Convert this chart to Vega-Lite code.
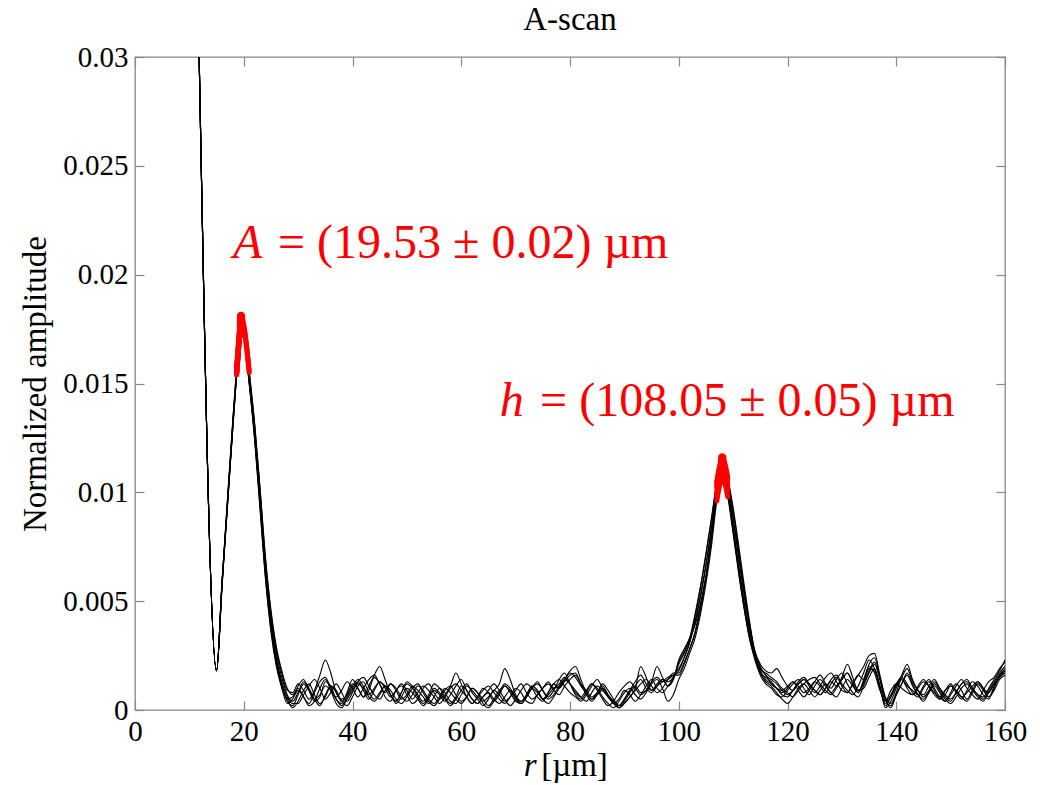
{
  "$schema": "https://vega.github.io/schema/vega-lite/v6.json",
  "width": 870,
  "height": 653,
  "autosize": "none",
  "padding": {"left": 135, "top": 57, "right": 35, "bottom": 75},
  "background": "white",
  "config": {
    "view": {"stroke": "#888888", "strokeWidth": 1.3},
    "font": "Liberation Serif"
  },
  "datasets": {
    "scans": [
      {"r":11.8,"a":0.03,"b":0.03,"c":0.03,"d":0.03,"e":0.03,"f":0.03,"g":0.03,"h":0.03},
      {"r":15,"a":0.0018,"b":0.0018,"c":0.0018,"d":0.0018,"e":0.0018,"f":0.0018,"g":0.0018,"h":0.0018},
      {"r":16,"a":0.0058,"b":0.0057,"c":0.0059,"d":0.0058,"e":0.0056,"f":0.0058,"g":0.0059,"h":0.0057},
      {"r":17,"a":0.0095,"b":0.0094,"c":0.0096,"d":0.0093,"e":0.0095,"f":0.0097,"g":0.0094,"h":0.0095},
      {"r":18,"a":0.0132,"b":0.013,"c":0.0133,"d":0.0131,"e":0.0132,"f":0.0134,"g":0.0131,"h":0.013},
      {"r":18.7,"a":0.0156,"b":0.0154,"c":0.0157,"d":0.0155,"e":0.0156,"f":0.0158,"g":0.0155,"h":0.0154},
      {"r":19,"a":0.0166,"b":0.0164,"c":0.0167,"d":0.0165,"e":0.0166,"f":0.0168,"g":0.0165,"h":0.0164},
      {"r":19.5,"a":0.0178,"b":0.0176,"c":0.018,"d":0.0177,"e":0.0179,"f":0.0181,"g":0.0177,"h":0.0176},
      {"r":20,"a":0.0174,"b":0.0172,"c":0.0176,"d":0.0173,"e":0.0175,"f":0.0177,"g":0.0173,"h":0.0172},
      {"r":21,"a":0.0152,"b":0.015,"c":0.0155,"d":0.0151,"e":0.0153,"f":0.0156,"g":0.0151,"h":0.015},
      {"r":22,"a":0.0128,"b":0.0124,"c":0.0131,"d":0.0126,"e":0.0129,"f":0.0132,"g":0.0127,"h":0.0125},
      {"r":23,"a":0.0097,"b":0.0092,"c":0.0101,"d":0.0095,"e":0.0099,"f":0.0102,"g":0.0096,"h":0.0093},
      {"r":24,"a":0.0065,"b":0.006,"c":0.0069,"d":0.0063,"e":0.0067,"f":0.007,"g":0.0064,"h":0.0061},
      {"r":25,"a":0.0041,"b":0.0036,"c":0.0045,"d":0.0039,"e":0.0043,"f":0.0046,"g":0.004,"h":0.0037},
      {"r":26,"a":0.0023,"b":0.002,"c":0.0028,"d":0.0022,"e":0.0026,"f":0.0029,"g":0.0024,"h":0.0021},
      {"r":27,"a":0.0012,"b":0.001,"c":0.0017,"d":0.0011,"e":0.0015,"f":0.0018,"g":0.0013,"h":0.0011},
      {"r":28,"a":0.0004,"b":0.0003,"c":0.0009,"d":0.0005,"e":0.0007,"f":0.001,"g":0.0006,"h":0.0005},
      {"r":29,"a":0.0002,"b":0.0005,"c":0.0008,"d":0.0001,"e":0.0004,"f":0.0007,"g":0.0003,"h":0.0006},
      {"r":30,"a":0.0007,"b":0.0009,"c":0.0012,"d":0.0004,"e":0.0008,"f":0.001,"g":0.0003,"h":0.0011},
      {"r":31,"a":0.0012,"b":0.0006,"c":0.0009,"d":0.0009,"e":0.0013,"f":0.0006,"g":0.0007,"h":0.0014},
      {"r":32,"a":0.0009,"b":0.0002,"c":0.0005,"d":0.0012,"e":0.001,"f":0.0003,"g":0.0011,"h":0.0009},
      {"r":33,"a":0.0004,"b":0.0004,"c":0.0009,"d":0.0007,"e":0.0005,"f":0.0008,"g":0.0014,"h":0.0005},
      {"r":34,"a":0.0006,"b":0.001,"c":0.0016,"d":0.0003,"e":0.0002,"f":0.0013,"g":0.001,"h":0.0007},
      {"r":35,"a":0.0013,"b":0.0014,"c":0.0023,"d":0.0006,"e":0.0007,"f":0.0015,"g":0.0005,"h":0.0011},
      {"r":36,"a":0.0011,"b":0.0009,"c":0.0017,"d":0.0011,"e":0.0011,"f":0.001,"g":0.0008,"h":0.0009},
      {"r":37,"a":0.0005,"b":0.0003,"c":0.0008,"d":0.0009,"e":0.0008,"f":0.0006,"g":0.0012,"h":0.0005},
      {"r":38,"a":0.0003,"b":0.0001,"c":0.0005,"d":0.0004,"e":0.0004,"f":0.0009,"g":0.0008,"h":0.0002},
      {"r":39,"a":0.0008,"b":0.0005,"c":0.0007,"d":0.0002,"e":0.0007,"f":0.0013,"g":0.0004,"h":0.0006},
      {"r":40,"a":0.0014,"b":0.0009,"c":0.0012,"d":0.0006,"e":0.0011,"f":0.001,"g":0.0008,"h":0.001},
      {"r":41,"a":0.001,"b":0.0012,"c":0.001,"d":0.0011,"e":0.0014,"f":0.0006,"g":0.0013,"h":0.0013},
      {"r":42,"a":0.0006,"b":0.001,"c":0.0006,"d":0.0013,"e":0.0011,"f":0.001,"g":0.0015,"h":0.0009},
      {"r":43,"a":0.0009,"b":0.0006,"c":0.0011,"d":0.0008,"e":0.0007,"f":0.0014,"g":0.0011,"h":0.0005},
      {"r":44,"a":0.0015,"b":0.0004,"c":0.0016,"d":0.0005,"e":0.001,"f":0.0016,"g":0.0007,"h":0.0009},
      {"r":45,"a":0.0012,"b":0.0007,"c":0.002,"d":0.0008,"e":0.0013,"f":0.0012,"g":0.0005,"h":0.0013},
      {"r":46,"a":0.0006,"b":0.0011,"c":0.0014,"d":0.0011,"e":0.001,"f":0.0008,"g":0.0009,"h":0.0011},
      {"r":47,"a":0.0004,"b":0.0009,"c":0.0007,"d":0.0007,"e":0.0006,"f":0.0012,"g":0.0012,"h":0.0007},
      {"r":48,"a":0.0009,"b":0.0005,"c":0.0004,"d":0.0003,"e":0.0009,"f":0.001,"g":0.0009,"h":0.0004},
      {"r":49,"a":0.0011,"b":0.0003,"c":0.0008,"d":0.0006,"e":0.0012,"f":0.0006,"g":0.0005,"h":0.0008},
      {"r":50,"a":0.0007,"b":0.0006,"c":0.0013,"d":0.001,"e":0.0009,"f":0.0004,"g":0.0007,"h":0.0012},
      {"r":51,"a":0.0003,"b":0.001,"c":0.0011,"d":0.0008,"e":0.0005,"f":0.0007,"g":0.0011,"h":0.001},
      {"r":52,"a":0.0005,"b":0.0012,"c":0.0007,"d":0.0005,"e":0.0008,"f":0.0011,"g":0.0009,"h":0.0006},
      {"r":53,"a":0.001,"b":0.0008,"c":0.0004,"d":0.0002,"e":0.0011,"f":0.0009,"g":0.0006,"h":0.0003},
      {"r":54,"a":0.0012,"b":0.0004,"c":0.0007,"d":0.0005,"e":0.0009,"f":0.0005,"g":0.0003,"h":0.0006},
      {"r":55,"a":0.0008,"b":0.0002,"c":0.0012,"d":0.0009,"e":0.0006,"f":0.0003,"g":0.0006,"h":0.001},
      {"r":56,"a":0.0005,"b":0.0005,"c":0.001,"d":0.0007,"e":0.0003,"f":0.0006,"g":0.001,"h":0.0008},
      {"r":57,"a":0.0007,"b":0.0009,"c":0.0006,"d":0.0004,"e":0.0006,"f":0.001,"g":0.0008,"h":0.0005},
      {"r":58,"a":0.0011,"b":0.0011,"c":0.0003,"d":0.0007,"e":0.001,"f":0.0008,"g":0.0004,"h":0.0002},
      {"r":59,"a":0.0017,"b":0.0007,"c":0.0006,"d":0.0011,"e":0.0012,"f":0.0005,"g":0.0003,"h":0.0005},
      {"r":60,"a":0.0012,"b":0.0004,"c":0.0011,"d":0.0014,"e":0.0009,"f":0.0003,"g":0.0007,"h":0.0009},
      {"r":61,"a":0.0006,"b":0.0006,"c":0.0009,"d":0.0009,"e":0.0006,"f":0.0006,"g":0.0011,"h":0.0012},
      {"r":62,"a":0.0003,"b":0.001,"c":0.0005,"d":0.0005,"e":0.0003,"f":0.001,"g":0.0009,"h":0.0008},
      {"r":63,"a":0.0006,"b":0.0008,"c":0.0003,"d":0.0003,"e":0.0006,"f":0.0008,"g":0.0006,"h":0.0005},
      {"r":64,"a":0.001,"b":0.0003,"c":0.0006,"d":0.0006,"e":0.0009,"f":0.0005,"g":0.0004,"h":0.0002},
      {"r":65,"a":0.0008,"b":0.0001,"c":0.0009,"d":0.0008,"e":0.0011,"f":0.0002,"g":0.0006,"h":0.0005},
      {"r":66,"a":0.0004,"b":0.0004,"c":0.0012,"d":0.0005,"e":0.0008,"f":0.0005,"g":0.0009,"h":0.0009},
      {"r":67,"a":0.0007,"b":0.0008,"c":0.0009,"d":0.0003,"e":0.0005,"f":0.0009,"g":0.0012,"h":0.0007},
      {"r":68,"a":0.0011,"b":0.0012,"c":0.0005,"d":0.0006,"e":0.0003,"f":0.0011,"g":0.0019,"h":0.0004},
      {"r":69,"a":0.0009,"b":0.001,"c":0.0002,"d":0.0009,"e":0.0006,"f":0.0008,"g":0.0014,"h":0.0006},
      {"r":70,"a":0.0005,"b":0.0006,"c":0.0005,"d":0.0006,"e":0.001,"f":0.0004,"g":0.0007,"h":0.0009},
      {"r":71,"a":0.0003,"b":0.0004,"c":0.0009,"d":0.0003,"e":0.0008,"f":0.0003,"g":0.0004,"h":0.0012},
      {"r":72,"a":0.0006,"b":0.0007,"c":0.0012,"d":0.0006,"e":0.0004,"f":0.0006,"g":0.0007,"h":0.0008},
      {"r":73,"a":0.001,"b":0.0011,"c":0.001,"d":0.001,"e":0.0003,"f":0.001,"g":0.0011,"h":0.0005},
      {"r":74,"a":0.0013,"b":0.0009,"c":0.0006,"d":0.0008,"e":0.0007,"f":0.0012,"g":0.0009,"h":0.0007},
      {"r":75,"a":0.0009,"b":0.0005,"c":0.0004,"d":0.0005,"e":0.001,"f":0.0009,"g":0.0005,"h":0.001},
      {"r":76,"a":0.0006,"b":0.0003,"c":0.0008,"d":0.0007,"e":0.0012,"f":0.0005,"g":0.0008,"h":0.0013},
      {"r":77,"a":0.0009,"b":0.0006,"c":0.0012,"d":0.001,"e":0.0009,"f":0.0007,"g":0.0012,"h":0.001},
      {"r":78,"a":0.0014,"b":0.001,"c":0.001,"d":0.0012,"e":0.0007,"f":0.0011,"g":0.0014,"h":0.0011},
      {"r":79,"a":0.0017,"b":0.0014,"c":0.0013,"d":0.0015,"e":0.0011,"f":0.0014,"g":0.0011,"h":0.0014},
      {"r":80,"a":0.0012,"b":0.0018,"c":0.0016,"d":0.0012,"e":0.0014,"f":0.0017,"g":0.0008,"h":0.0012},
      {"r":81,"a":0.0007,"b":0.002,"c":0.0017,"d":0.0008,"e":0.0016,"f":0.0015,"g":0.0006,"h":0.0009},
      {"r":82,"a":0.0005,"b":0.0014,"c":0.0012,"d":0.0006,"e":0.0012,"f":0.0011,"g":0.0004,"h":0.0006},
      {"r":83,"a":0.0008,"b":0.0008,"c":0.0007,"d":0.0009,"e":0.0009,"f":0.0008,"g":0.0007,"h":0.0004},
      {"r":84,"a":0.0012,"b":0.0005,"c":0.0004,"d":0.0012,"e":0.0006,"f":0.0005,"g":0.0011,"h":0.0008},
      {"r":85,"a":0.0009,"b":0.0007,"c":0.0007,"d":0.001,"e":0.0008,"f":0.0008,"g":0.0014,"h":0.0011},
      {"r":86,"a":0.0005,"b":0.0009,"c":0.001,"d":0.0006,"e":0.0011,"f":0.0012,"g":0.001,"h":0.0009},
      {"r":87,"a":0.0002,"b":0.0006,"c":0.0007,"d":0.0003,"e":0.0007,"f":0.0009,"g":0.0006,"h":0.0006},
      {"r":88,"a":0.0004,"b":0.0003,"c":0.0003,"d":0.0001,"e":0.0004,"f":0.0005,"g":0.0004,"h":0.0003},
      {"r":89,"a":0.0008,"b":0.0001,"c":0.0005,"d":0.0004,"e":0.0001,"f":0.0002,"g":0.0001,"h":0.0002},
      {"r":90,"a":0.0011,"b":0.0003,"c":0.0009,"d":0.0008,"e":0.0004,"f":0.0005,"g":0.0003,"h":0.0005},
      {"r":91,"a":0.0013,"b":0.0006,"c":0.0007,"d":0.001,"e":0.0008,"f":0.0009,"g":0.0006,"h":0.0009},
      {"r":92,"a":0.001,"b":0.0009,"c":0.0004,"d":0.0007,"e":0.0011,"f":0.0011,"g":0.001,"h":0.0013},
      {"r":93,"a":0.0007,"b":0.0012,"c":0.0007,"d":0.0005,"e":0.0014,"f":0.0008,"g":0.002,"h":0.0016},
      {"r":94,"a":0.0009,"b":0.0014,"c":0.0011,"d":0.0008,"e":0.001,"f":0.0009,"g":0.0015,"h":0.0012},
      {"r":95,"a":0.0013,"b":0.0011,"c":0.0014,"d":0.0012,"e":0.0008,"f":0.0013,"g":0.0009,"h":0.0009},
      {"r":96,"a":0.0015,"b":0.0008,"c":0.001,"d":0.0014,"e":0.0011,"f":0.002,"g":0.0012,"h":0.0011},
      {"r":97,"a":0.0013,"b":0.001,"c":0.0008,"d":0.001,"e":0.0014,"f":0.0015,"g":0.0014,"h":0.0013},
      {"r":98,"a":0.0014,"b":0.0014,"c":0.0011,"d":0.0004,"e":0.0013,"f":0.0011,"g":0.0011,"h":0.0015},
      {"r":99,"a":0.0016,"b":0.0017,"c":0.0014,"d":0.0007,"e":0.0015,"f":0.0014,"g":0.0015,"h":0.0016},
      {"r":100,"a":0.0019,"b":0.0017,"c":0.0022,"d":0.0014,"e":0.0021,"f":0.0023,"g":0.0018,"h":0.0016},
      {"r":101,"a":0.0024,"b":0.0022,"c":0.0027,"d":0.0019,"e":0.0026,"f":0.0028,"g":0.0024,"h":0.0021},
      {"r":102,"a":0.0031,"b":0.0028,"c":0.0033,"d":0.0026,"e":0.0032,"f":0.0033,"g":0.0031,"h":0.0028},
      {"r":103,"a":0.004,"b":0.0035,"c":0.0044,"d":0.0033,"e":0.0041,"f":0.0039,"g":0.0043,"h":0.0036},
      {"r":104,"a":0.0052,"b":0.0046,"c":0.0057,"d":0.0044,"e":0.0053,"f":0.0049,"g":0.0056,"h":0.0048},
      {"r":105,"a":0.0066,"b":0.006,"c":0.0072,"d":0.0058,"e":0.0067,"f":0.0062,"g":0.0071,"h":0.0061},
      {"r":106,"a":0.0083,"b":0.0078,"c":0.0088,"d":0.0075,"e":0.0084,"f":0.008,"g":0.0087,"h":0.0078},
      {"r":107,"a":0.0102,"b":0.0099,"c":0.0105,"d":0.0096,"e":0.0103,"f":0.01,"g":0.0104,"h":0.0098},
      {"r":107.5,"a":0.0109,"b":0.0106,"c":0.0112,"d":0.0103,"e":0.011,"f":0.0107,"g":0.0111,"h":0.0105},
      {"r":108,"a":0.0113,"b":0.011,"c":0.0116,"d":0.0107,"e":0.0114,"f":0.0111,"g":0.0115,"h":0.0109},
      {"r":108.5,"a":0.011,"b":0.0107,"c":0.0113,"d":0.0104,"e":0.0111,"f":0.0108,"g":0.0112,"h":0.0106},
      {"r":109,"a":0.0104,"b":0.0101,"c":0.0107,"d":0.0098,"e":0.0105,"f":0.0102,"g":0.0106,"h":0.01},
      {"r":110,"a":0.0088,"b":0.0083,"c":0.0093,"d":0.0081,"e":0.0089,"f":0.0085,"g":0.0092,"h":0.0082},
      {"r":111,"a":0.007,"b":0.0064,"c":0.0076,"d":0.0063,"e":0.0072,"f":0.0067,"g":0.0074,"h":0.0065},
      {"r":112,"a":0.0053,"b":0.0047,"c":0.0058,"d":0.0047,"e":0.0055,"f":0.005,"g":0.0056,"h":0.0049},
      {"r":113,"a":0.0037,"b":0.0033,"c":0.0041,"d":0.0033,"e":0.0039,"f":0.0035,"g":0.004,"h":0.0034},
      {"r":114,"a":0.0025,"b":0.0024,"c":0.0027,"d":0.0023,"e":0.0027,"f":0.0024,"g":0.0026,"h":0.0025},
      {"r":115,"a":0.0018,"b":0.0017,"c":0.002,"d":0.0016,"e":0.0021,"f":0.0017,"g":0.0019,"h":0.0019},
      {"r":116,"a":0.0014,"b":0.0013,"c":0.0016,"d":0.0012,"e":0.0018,"f":0.0015,"g":0.0016,"h":0.0017},
      {"r":117,"a":0.0012,"b":0.0011,"c":0.0014,"d":0.001,"e":0.0017,"f":0.0013,"g":0.0012,"h":0.0015},
      {"r":118,"a":0.001,"b":0.0008,"c":0.0012,"d":0.0007,"e":0.0019,"f":0.001,"g":0.001,"h":0.0013},
      {"r":119,"a":0.0008,"b":0.0005,"c":0.0009,"d":0.0006,"e":0.0015,"f":0.0007,"g":0.0009,"h":0.001},
      {"r":120,"a":0.001,"b":0.0003,"c":0.0007,"d":0.0009,"e":0.0011,"f":0.0006,"g":0.0011,"h":0.0008},
      {"r":121,"a":0.0013,"b":0.0006,"c":0.0009,"d":0.0012,"e":0.0009,"f":0.0009,"g":0.0013,"h":0.0006},
      {"r":122,"a":0.0011,"b":0.001,"c":0.0012,"d":0.0014,"e":0.0012,"f":0.0013,"g":0.0009,"h":0.0009},
      {"r":123,"a":0.0008,"b":0.0012,"c":0.0014,"d":0.001,"e":0.0014,"f":0.0015,"g":0.0006,"h":0.0012},
      {"r":124,"a":0.001,"b":0.0009,"c":0.0012,"d":0.0007,"e":0.0011,"f":0.0012,"g":0.0009,"h":0.0014},
      {"r":125,"a":0.0013,"b":0.0006,"c":0.0009,"d":0.0011,"e":0.0008,"f":0.0009,"g":0.0013,"h":0.0015},
      {"r":126,"a":0.0011,"b":0.0009,"c":0.0007,"d":0.0014,"e":0.0011,"f":0.0007,"g":0.0016,"h":0.0012},
      {"r":127,"a":0.0008,"b":0.0012,"c":0.001,"d":0.0011,"e":0.0015,"f":0.001,"g":0.0012,"h":0.0009},
      {"r":128,"a":0.0012,"b":0.001,"c":0.0013,"d":0.0008,"e":0.0017,"f":0.0014,"g":0.0008,"h":0.0007},
      {"r":129,"a":0.0015,"b":0.0014,"c":0.0011,"d":0.0006,"e":0.0013,"f":0.0016,"g":0.0011,"h":0.001},
      {"r":130,"a":0.0011,"b":0.0017,"c":0.0015,"d":0.001,"e":0.0009,"f":0.0012,"g":0.0014,"h":0.0014},
      {"r":131,"a":0.0008,"b":0.0012,"c":0.0021,"d":0.0014,"e":0.0008,"f":0.0009,"g":0.0017,"h":0.0017},
      {"r":132,"a":0.0012,"b":0.0008,"c":0.0015,"d":0.0011,"e":0.0012,"f":0.0007,"g":0.0012,"h":0.0013},
      {"r":133,"a":0.0016,"b":0.0006,"c":0.0009,"d":0.0008,"e":0.0016,"f":0.0011,"g":0.0008,"h":0.0009},
      {"r":134,"a":0.0014,"b":0.0011,"c":0.001,"d":0.0014,"e":0.002,"f":0.0017,"g":0.0013,"h":0.0012},
      {"r":135,"a":0.0019,"b":0.0017,"c":0.0015,"d":0.002,"e":0.0025,"f":0.0023,"g":0.0021,"h":0.0018},
      {"r":136,"a":0.0018,"b":0.0021,"c":0.0019,"d":0.0017,"e":0.0026,"f":0.0019,"g":0.0024,"h":0.0022},
      {"r":137,"a":0.001,"b":0.0014,"c":0.0011,"d":0.0009,"e":0.0016,"f":0.0011,"g":0.0015,"h":0.0014},
      {"r":138,"a":0.0003,"b":0.0005,"c":0.0002,"d":0.0004,"e":0.0006,"f":0.0001,"g":0.0005,"h":0.0004},
      {"r":139,"a":0.0006,"b":0.0002,"c":0.0006,"d":0.0009,"e":0.0003,"f":0.0004,"g":0.0001,"h":0.0007},
      {"r":140,"a":0.0011,"b":0.0007,"c":0.0012,"d":0.0012,"e":0.0008,"f":0.001,"g":0.0007,"h":0.0012},
      {"r":141,"a":0.0015,"b":0.0012,"c":0.0016,"d":0.001,"e":0.0014,"f":0.0015,"g":0.0012,"h":0.0014},
      {"r":142,"a":0.0012,"b":0.0017,"c":0.0021,"d":0.0008,"e":0.0011,"f":0.0019,"g":0.0016,"h":0.001},
      {"r":143,"a":0.0008,"b":0.0012,"c":0.0014,"d":0.0007,"e":0.0009,"f":0.0013,"g":0.0011,"h":0.0007},
      {"r":144,"a":0.0006,"b":0.0007,"c":0.0009,"d":0.0011,"e":0.0007,"f":0.0009,"g":0.0007,"h":0.001},
      {"r":145,"a":0.001,"b":0.0004,"c":0.0007,"d":0.0014,"e":0.0011,"f":0.0006,"g":0.0005,"h":0.0013},
      {"r":146,"a":0.0013,"b":0.0008,"c":0.0011,"d":0.0011,"e":0.0014,"f":0.0009,"g":0.0008,"h":0.0011},
      {"r":147,"a":0.0009,"b":0.0012,"c":0.0014,"d":0.0007,"e":0.001,"f":0.0013,"g":0.0011,"h":0.0008},
      {"r":148,"a":0.0005,"b":0.0009,"c":0.001,"d":0.0005,"e":0.0006,"f":0.001,"g":0.0008,"h":0.0006},
      {"r":149,"a":0.0007,"b":0.0005,"c":0.0006,"d":0.0009,"e":0.0004,"f":0.0007,"g":0.0004,"h":0.0009},
      {"r":150,"a":0.0011,"b":0.0003,"c":0.0004,"d":0.0012,"e":0.0008,"f":0.0005,"g":0.0007,"h":0.0011},
      {"r":151,"a":0.0009,"b":0.0006,"c":0.0008,"d":0.0008,"e":0.0012,"f":0.0008,"g":0.0011,"h":0.0009},
      {"r":152,"a":0.0006,"b":0.001,"c":0.0012,"d":0.0005,"e":0.0009,"f":0.0012,"g":0.0014,"h":0.0006},
      {"r":153,"a":0.0004,"b":0.0012,"c":0.0014,"d":0.0009,"e":0.0005,"f":0.0013,"g":0.001,"h":0.0008},
      {"r":154,"a":0.0008,"b":0.0009,"c":0.001,"d":0.0013,"e":0.0009,"f":0.001,"g":0.0007,"h":0.0011},
      {"r":155,"a":0.0012,"b":0.0006,"c":0.0007,"d":0.0011,"e":0.0013,"f":0.0007,"g":0.0005,"h":0.0013},
      {"r":156,"a":0.0009,"b":0.0004,"c":0.0006,"d":0.0007,"e":0.001,"f":0.0005,"g":0.0009,"h":0.001},
      {"r":157,"a":0.0006,"b":0.0008,"c":0.001,"d":0.0005,"e":0.0006,"f":0.0009,"g":0.0013,"h":0.0008},
      {"r":158,"a":0.001,"b":0.0012,"c":0.0014,"d":0.0011,"e":0.0009,"f":0.0013,"g":0.0015,"h":0.0012},
      {"r":159,"a":0.0016,"b":0.0015,"c":0.0018,"d":0.0015,"e":0.0014,"f":0.0017,"g":0.0019,"h":0.0016},
      {"r":160,"a":0.0019,"b":0.0017,"c":0.0023,"d":0.0018,"e":0.0016,"f":0.002,"g":0.0022,"h":0.0018}
    ],
    "heading": [{"r": 80, "amp": 0.03124, "t": "A-scan"}],
    "symbols": [
      {"r": 18.0, "amp": 0.02077, "t": "A"},
      {"r": 67.1, "amp": 0.01351, "t": "h"}
    ],
    "values": [
      {"r": 26.3, "amp": 0.02077, "t": "= (19.53 ± 0.02) µm"},
      {"r": 74.5, "amp": 0.01351, "t": "= (108.05 ± 0.05) µm"}
    ],
    "xtitleVar": [{"r": 71.5, "amp": -0.00303, "t": "r"}],
    "xtitleUnit": [{"r": 74.7, "amp": -0.00303, "t": "[µm]"}]
  },
  "layer": [
    {
      "data": {"name": "scans"},
      "transform": [{"fold": ["a", "b", "c", "d", "e", "f", "g", "h"], "as": ["trace", "amp"]}],
      "mark": {"type": "line", "color": "black", "strokeWidth": 1.1, "interpolate": "monotone"},
      "encoding": {
        "x": {"field": "r", "type": "quantitative", "scale": {"domain": [0, 160], "nice": false, "zero": false},
          "axis": {"orient": "bottom", "values": [0, 20, 40, 60, 80, 100, 120, 140, 160], "title": null, "grid": false, "domain": false,
            "tickSize": -9, "tickColor": "#888888", "tickWidth": 1.2, "labelFont": "Liberation Serif", "labelFontSize": 29, "labelColor": "black",
            "labelPadding": 16, "labelFlush": false, "labelOverlap": false, "labelBound": false}},
        "y": {"field": "amp", "type": "quantitative", "scale": {"domain": [0, 0.03], "nice": false, "zero": false},
          "axis": {"orient": "left", "values": [0, 0.005, 0.01, 0.015, 0.02, 0.025, 0.03], "format": "~g", "title": "Normalized amplitude", "grid": false, "domain": false,
            "tickSize": -9, "tickColor": "#888888", "tickWidth": 1.2, "labelFont": "Liberation Serif", "labelFontSize": 29, "labelColor": "black",
            "labelPadding": 16, "labelFlush": false, "labelOverlap": false, "labelBound": false,
            "titleFont": "Liberation Serif", "titleFontSize": 33, "titleFontWeight": "normal", "titleColor": "black", "titlePadding": 10}},
        "detail": {"field": "trace", "type": "nominal"}
      }
    },
    {
      "data": {"name": "scans"},
      "transform": [
        {"fold": ["a", "b", "c", "d", "e", "f", "g", "h"], "as": ["trace", "amp"]},
        {"filter": {"and": [{"field": "r", "gt": 18}, {"field": "r", "lt": 25}, {"field": "amp", "gte": 0.0154}]}}
      ],
      "mark": {"type": "line", "color": "red", "strokeWidth": 5, "strokeCap": "round", "strokeJoin": "round", "interpolate": "monotone"},
      "encoding": {
        "x": {"field": "r", "type": "quantitative", "scale": {"domain": [0, 160], "nice": false, "zero": false}, "axis": null},
        "y": {"field": "amp", "type": "quantitative", "scale": {"domain": [0, 0.03], "nice": false, "zero": false}, "axis": null},
        "detail": {"field": "trace", "type": "nominal"}
      }
    },
    {
      "data": {"name": "scans"},
      "transform": [
        {"fold": ["a", "b", "c", "d", "e", "f", "g", "h"], "as": ["trace", "amp"]},
        {"filter": {"and": [{"field": "r", "gt": 100}, {"field": "r", "lt": 112}, {"field": "amp", "gte": 0.0096}]}}
      ],
      "mark": {"type": "line", "color": "red", "strokeWidth": 5, "strokeCap": "round", "strokeJoin": "round", "interpolate": "monotone"},
      "encoding": {
        "x": {"field": "r", "type": "quantitative", "scale": {"domain": [0, 160], "nice": false, "zero": false}, "axis": null},
        "y": {"field": "amp", "type": "quantitative", "scale": {"domain": [0, 0.03], "nice": false, "zero": false}, "axis": null},
        "detail": {"field": "trace", "type": "nominal"}
      }
    },
    {
      "data": {"name": "scans"},
      "transform": [
        {"fold": ["a", "b", "c", "d", "e", "f", "g", "h"], "as": ["trace", "amp"]},
        {"filter": {"or": [{"field": "r", "equal": 19.5}, {"field": "r", "equal": 108}]}}
      ],
      "mark": {"type": "point", "shape": "circle", "filled": true, "color": "red", "size": 70, "opacity": 1},
      "encoding": {
        "x": {"field": "r", "type": "quantitative", "scale": {"domain": [0, 160], "nice": false, "zero": false}, "axis": null},
        "y": {"field": "amp", "type": "quantitative", "scale": {"domain": [0, 0.03], "nice": false, "zero": false}, "axis": null}
      }
    },
    {
      "data": {"name": "symbols"},
      "mark": {"type": "text", "font": "Liberation Serif", "fontSize": 48, "fontStyle": "italic", "color": "red", "align": "left", "baseline": "alphabetic"},
      "encoding": {
        "x": {"field": "r", "type": "quantitative", "scale": {"domain": [0, 160], "nice": false, "zero": false},
          "axis": {"orient": "top", "values": [0, 20, 40, 60, 80, 100, 120, 140, 160], "labels": false, "title": null, "grid": false, "domain": false, "tickSize": -9, "tickColor": "#888888", "tickWidth": 1.2}},
        "y": {"field": "amp", "type": "quantitative", "scale": {"domain": [0, 0.03], "nice": false, "zero": false},
          "axis": {"orient": "right", "values": [0, 0.005, 0.01, 0.015, 0.02, 0.025, 0.03], "labels": false, "title": null, "grid": false, "domain": false, "tickSize": -9, "tickColor": "#888888", "tickWidth": 1.2}},
        "text": {"field": "t", "type": "nominal"}
      }
    },
    {
      "data": {"name": "values"},
      "mark": {"type": "text", "font": "Liberation Serif", "fontSize": 48, "color": "red", "align": "left", "baseline": "alphabetic"},
      "encoding": {
        "x": {"field": "r", "type": "quantitative", "scale": {"domain": [0, 160], "nice": false, "zero": false}, "axis": null},
        "y": {"field": "amp", "type": "quantitative", "scale": {"domain": [0, 0.03], "nice": false, "zero": false}, "axis": null},
        "text": {"field": "t", "type": "nominal"}
      }
    },
    {
      "data": {"name": "heading"},
      "mark": {"type": "text", "font": "Liberation Serif", "fontSize": 33, "color": "black", "align": "center", "baseline": "alphabetic"},
      "encoding": {
        "x": {"field": "r", "type": "quantitative", "scale": {"domain": [0, 160], "nice": false, "zero": false}, "axis": null},
        "y": {"field": "amp", "type": "quantitative", "scale": {"domain": [0, 0.03], "nice": false, "zero": false}, "axis": null},
        "text": {"field": "t", "type": "nominal"}
      }
    },
    {
      "data": {"name": "xtitleVar"},
      "mark": {"type": "text", "font": "Liberation Serif", "fontSize": 33, "fontStyle": "italic", "color": "black", "align": "left", "baseline": "alphabetic"},
      "encoding": {
        "x": {"field": "r", "type": "quantitative", "scale": {"domain": [0, 160], "nice": false, "zero": false}, "axis": null},
        "y": {"field": "amp", "type": "quantitative", "scale": {"domain": [0, 0.03], "nice": false, "zero": false}, "axis": null},
        "text": {"field": "t", "type": "nominal"}
      }
    },
    {
      "data": {"name": "xtitleUnit"},
      "mark": {"type": "text", "font": "Liberation Serif", "fontSize": 33, "color": "black", "align": "left", "baseline": "alphabetic"},
      "encoding": {
        "x": {"field": "r", "type": "quantitative", "scale": {"domain": [0, 160], "nice": false, "zero": false}, "axis": null},
        "y": {"field": "amp", "type": "quantitative", "scale": {"domain": [0, 0.03], "nice": false, "zero": false}, "axis": null},
        "text": {"field": "t", "type": "nominal"}
      }
    }
  ],
  "resolve": {"axis": {"x": "independent", "y": "independent"}}
}
